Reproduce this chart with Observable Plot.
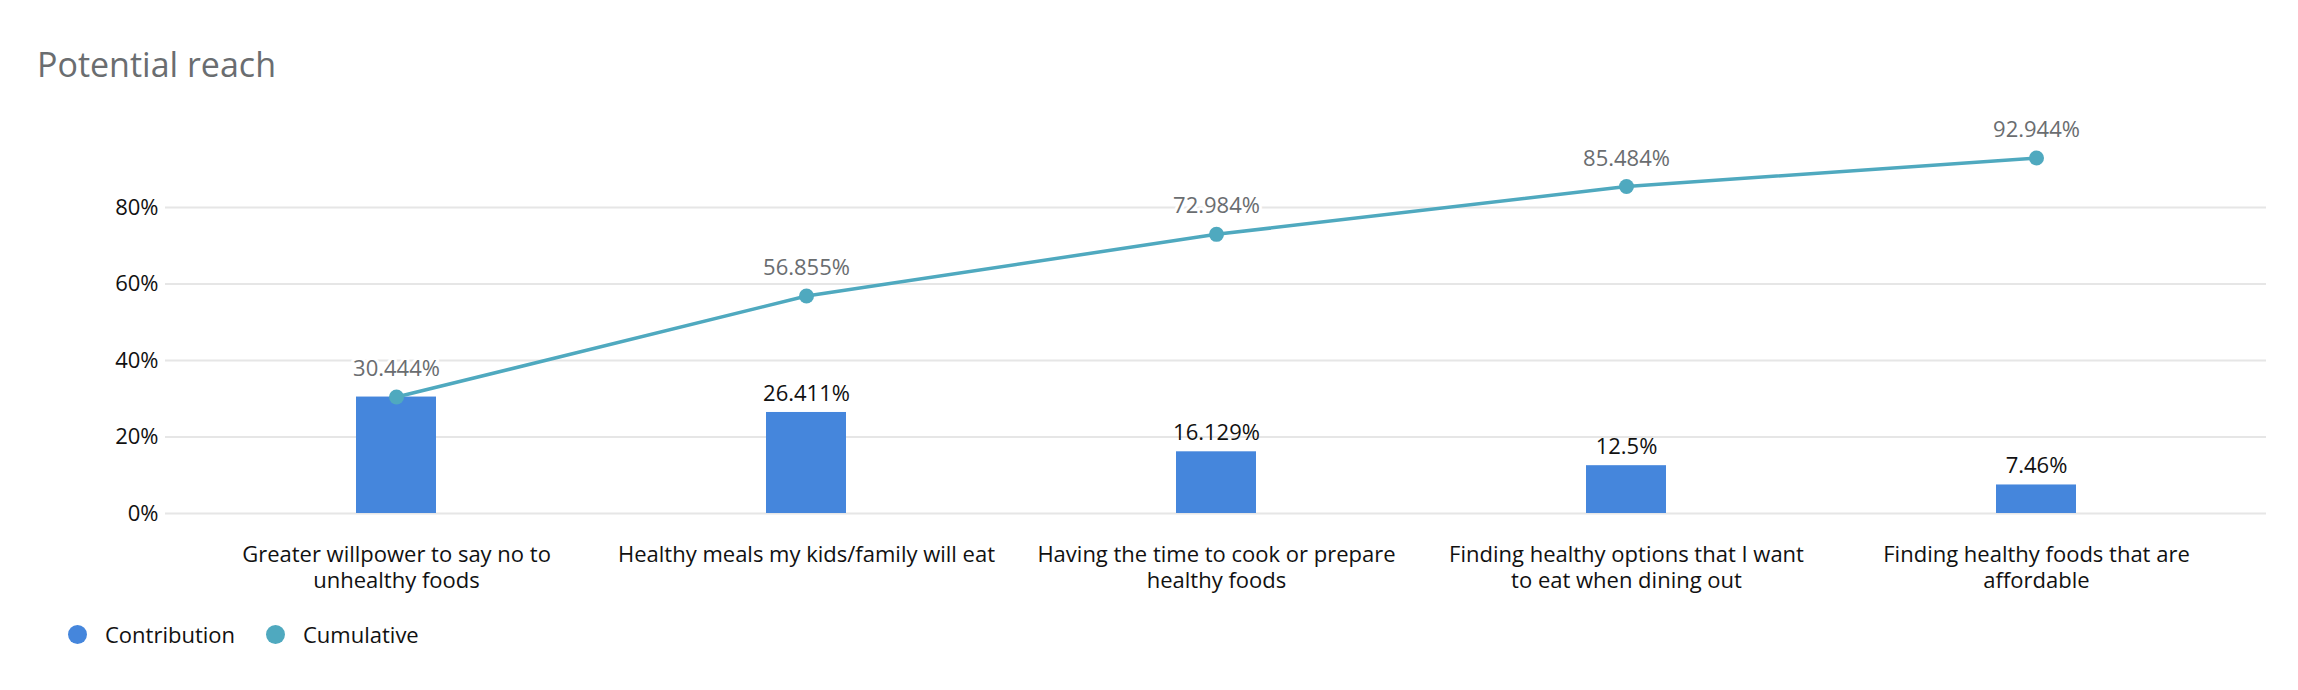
<!DOCTYPE html>
<html>
<head>
<meta charset="utf-8">
<script src="https://cdn.jsdelivr.net/npm/d3@7"></script>
<script src="https://cdn.jsdelivr.net/npm/@observablehq/plot@0.6"></script>
<style>
  html, body { margin: 0; padding: 0; background: #fff; }
  body { width: 2298px; height: 690px; position: relative; font-family: "Open Sans", sans-serif; overflow: hidden; }
  #title { position: absolute; left: 37px; top: 47px; font-size: 34px; line-height: 1; color: #6a6d70; }
  #chart { position: absolute; left: 0; top: 100px; }
  .leg { position: absolute; top: 610px; height: 48px; line-height: 48px; font-size: 22px; color: #111; }
  .leg .dot { position: absolute; width: 19px; height: 19px; border-radius: 50%; top: 14.5px; }
  .leg span.lbl { position: absolute; white-space: nowrap; }
</style>
</head>
<body>
<div id="title">Potential reach</div>
<div id="chart"></div>
<div class="leg" style="left:0">
  <div class="dot" style="left:68px;background:#4586dc"></div><span class="lbl" style="left:105px">Contribution</span>
  <div class="dot" style="left:266px;background:#4fa9bf"></div><span class="lbl" style="left:303px">Cumulative</span>
</div>
<script>
const categories = [
  "Greater willpower to say no to unhealthy foods",
  "Healthy meals my kids/family will eat",
  "Having the time to cook or prepare healthy foods",
  "Finding healthy options that I want to eat when dining out",
  "Finding healthy foods that are affordable"
];
const tickLabels = [
  "Greater willpower to say no to\nunhealthy foods",
  "Healthy meals my kids/family will eat",
  "Having the time to cook or prepare\nhealthy foods",
  "Finding healthy options that I want\nto eat when dining out",
  "Finding healthy foods that are\naffordable"
];
const contribution = [30.444, 26.411, 16.129, 12.5, 7.46];
const cumulative = [30.444, 56.855, 72.984, 85.484, 92.944];
const yTicks = [0, 20, 40, 60, 80];

const rows = categories.map((c, i) => ({
  cat: c,
  label: tickLabels[i],
  contribution: contribution[i],
  cumulative: cumulative[i]
}));
const labelOf = new Map(rows.map(d => [d.cat, d.label]));

const chart = Plot.plot({
  width: 2298,
  height: 510,
  marginLeft: 165,
  marginRight: 32,
  marginTop: 30.5,
  marginBottom: 97,
  style: { fontFamily: "Open Sans, sans-serif", background: "transparent" },
  x: { domain: categories, paddingInner: 0.805, paddingOuter: 0.463, label: null },
  y: { domain: [0, 100], label: null },
  marks: [
    Plot.gridY(yTicks, { stroke: "#e6e6e6", strokeOpacity: 1, strokeWidth: 2 }),
    Plot.axisY(yTicks, {
      tickSize: 0, tickPadding: 7, fontSize: 22, fill: "#111",
      tickFormat: d => d + "%", label: null
    }),
    Plot.axisX({
      tickSize: 0, tickPadding: 30, fontSize: 22, fill: "#111", lineHeight: 1.18,
      tickFormat: d => labelOf.get(d), label: null
    }),
    Plot.barY(rows, { x: "cat", y: "contribution", fill: "#4586dc" }),
    Plot.text(rows.slice(1), {
      x: "cat", y: "contribution", text: d => d.contribution + "%",
      dy: -19, fontSize: 22, fill: "#111"
    }),
    Plot.lineY(rows, { x: "cat", y: "cumulative", stroke: "#4fa9bf", strokeWidth: 3.5 }),
    Plot.dot(rows, { x: "cat", y: "cumulative", r: 7.5, fill: "#4fa9bf" }),
    Plot.text(rows, {
      x: "cat", y: "cumulative", text: d => d.cumulative + "%",
      dy: -28, fontSize: 22, fill: "#6a6d70", stroke: "white", strokeWidth: 6
    })
  ]
});
document.getElementById("chart").appendChild(chart);
</script>
</body>
</html>
